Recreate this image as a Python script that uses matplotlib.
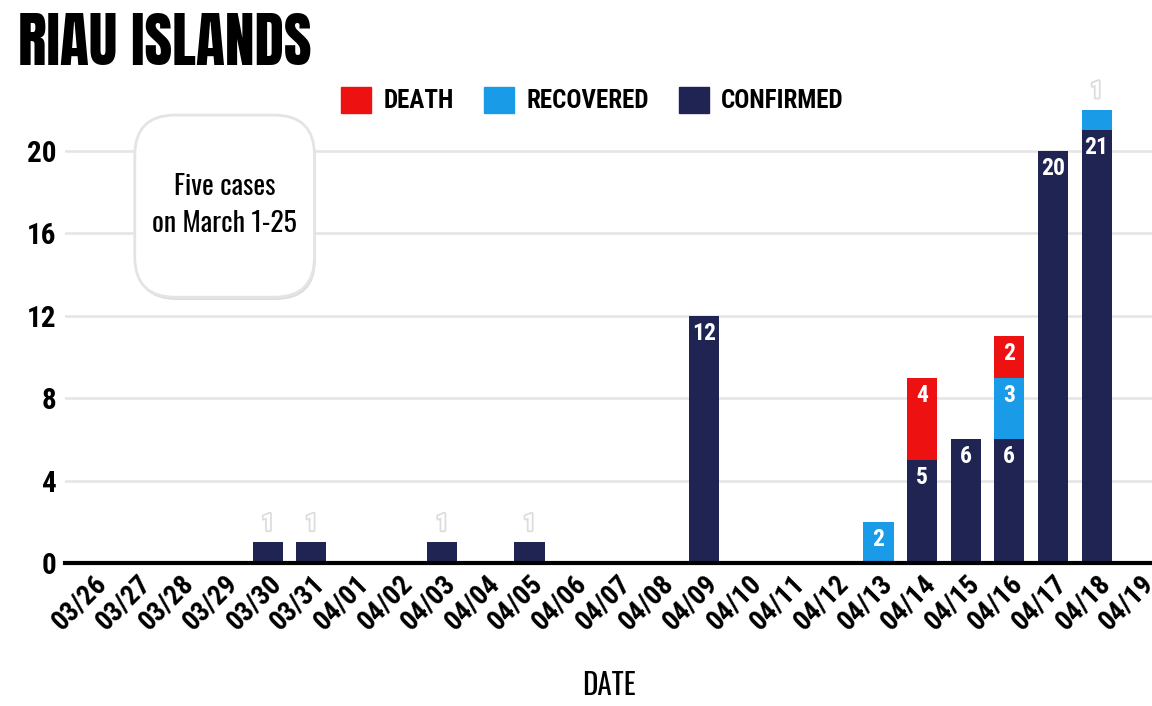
import matplotlib
matplotlib.use("Agg")
import matplotlib.pyplot as plt
import matplotlib.patheffects as pe
import numpy as np
from matplotlib import font_manager
from matplotlib.patches import FancyBboxPatch, Patch


def pick(cands):
    # first family that is installed with at least the weight asked for
    for name, wmin in cands:
        for f in font_manager.fontManager.ttflist:
            try:
                wt = int(f.weight)
            except (TypeError, ValueError):
                wt = 700 if "bold" in str(f.weight) else 400
            if f.name == name and wt >= wmin:
                return name
    return "DejaVu Sans"


REGULAR = pick([("Oswald", 400), ("Roboto Condensed", 400), ("IBM Plex Sans Condensed", 400)])
BOLD = pick([("Oswald", 700), ("Roboto Condensed", 700), ("Barlow Condensed", 700),
             ("IBM Plex Sans Condensed", 700), ("Fjalla One", 400)])
HEAVY = pick([("Anton", 400), ("Oswald", 700), ("Fjalla One", 400),
              ("IBM Plex Sans Condensed", 700)])
plt.rcParams["font.family"] = [REGULAR, "DejaVu Sans"]

dates = ["03/26", "03/27", "03/28", "03/29", "03/30", "03/31", "04/01", "04/02",
         "04/03", "04/04", "04/05", "04/06", "04/07", "04/08", "04/09", "04/10",
         "04/11", "04/12", "04/13", "04/14", "04/15", "04/16", "04/17", "04/18",
         "04/19"]
confirmed = [0, 0, 0, 0, 1, 1, 0, 0, 1, 0, 1, 0, 0, 0, 12, 0, 0, 0, 0, 5, 6, 6, 20, 21, 0]
recovered = [0, 0, 0, 0, 0, 0, 0, 0, 0, 0, 0, 0, 0, 0, 0, 0, 0, 0, 2, 0, 0, 3, 0, 1, 0]
death = [0, 0, 0, 0, 0, 0, 0, 0, 0, 0, 0, 0, 0, 0, 0, 0, 0, 0, 0, 4, 0, 2, 0, 0, 0]
yticks = [0, 4, 8, 12, 16, 20]

NAVY = "#1f2452"
BLUE = "#1a9be8"
RED = "#ee1111"

fig = plt.figure(figsize=(11.52, 7.06), dpi=100)
ax = fig.add_axes([0.0564, 0.2025, 0.9436, 0.6712])

x = np.arange(len(dates))
conf = np.array(confirmed)
rec = np.array(recovered)
dth = np.array(death)
w = 0.69

ax.bar(x, conf, w, color=NAVY, zorder=3)
ax.bar(x, rec, w, bottom=conf, color=BLUE, zorder=3)
ax.bar(x, dth, w, bottom=conf + rec, color=RED, zorder=3)

bold = dict(family=[BOLD, "DejaVu Sans"], fontweight="bold")
ghost = [pe.withStroke(linewidth=2.5, foreground="#dcdcdc")]
for i in x:
    base = 0
    for vals in (conf, rec, dth):
        v = vals[i]
        if v >= 2:
            ax.text(i, base + v - 0.85, str(v), ha="center", va="center", color="white",
                    fontsize=17, zorder=4, **bold)
        elif v == 1:
            ax.text(i, base + v + 0.9, str(v), ha="center", va="center", color="white",
                    fontsize=17, zorder=4, path_effects=ghost, **bold)
        base += v

ax.set_xlim(-0.65, 24.27)
ax.set_ylim(0, 23)
ax.set_yticks(yticks)
ax.set_yticklabels([str(t) for t in yticks], fontsize=21, **bold)
ax.set_xticks(x)
ax.set_xticklabels(dates, rotation=45, ha="right", rotation_mode="anchor",
                   fontsize=20, **bold)
ax.tick_params(axis="both", length=0, pad=5)
ax.tick_params(axis="y", pad=6)
ax.grid(axis="y", color="#e4e4e4", linewidth=1.8, zorder=0)
for s in ("left", "right", "top"):
    ax.spines[s].set_visible(False)
ax.spines["bottom"].set_linewidth(3)
ax.spines["bottom"].set_zorder(5)
ax.set_xlabel("DATE", fontsize=21, labelpad=26)

fig.text(0.016, 0.94, "RIAU ISLANDS", fontsize=43, color="black", va="center",
         family=[HEAVY, "DejaVu Sans"], fontweight="bold")

handles = [Patch(color=RED), Patch(color=BLUE), Patch(color=NAVY)]
fig.legend(handles, ["DEATH", "RECOVERED", "CONFIRMED"], loc="center",
           bbox_to_anchor=(0.514, 0.858), ncol=3, frameon=False,
           prop={"family": [BOLD, "DejaVu Sans"], "weight": "bold", "size": 18},
           handlelength=1.2, handleheight=1.2, columnspacing=1.2, handletextpad=0.5)

box = FancyBboxPatch((0.117, 0.579), 0.156, 0.258,
                     boxstyle="round,pad=0,rounding_size=0.035", mutation_aspect=1152 / 706,
                     transform=fig.transFigure, facecolor="white", edgecolor="#e4e4e4",
                     linewidth=2, zorder=6,
                     path_effects=[pe.SimplePatchShadow(offset=(1, -2), shadow_rgbFace="#bdbdbd", alpha=0.5),
                                   pe.Normal()])
fig.patches.append(box)
fig.text(0.195, 0.71, "Five cases\non March 1-25", ha="center", va="center",
         fontsize=20, linespacing=1.45, zorder=7)

fig.savefig("out.png", dpi=100)
